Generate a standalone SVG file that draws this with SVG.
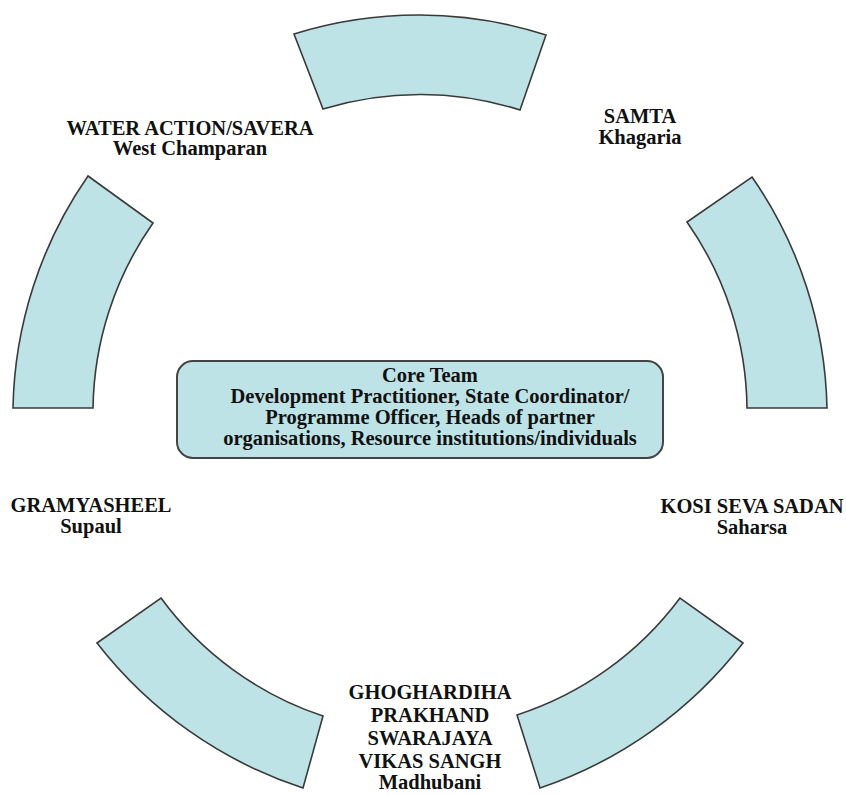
<svg xmlns="http://www.w3.org/2000/svg" width="846" height="795" viewBox="0 0 846 795">
<style>
.seg{fill:#bee3e6;stroke:#3a3a3a;stroke-width:1.6;stroke-linejoin:miter}
.core{fill:#bee3e6;stroke:#444;stroke-width:2}
text{font-family:"Liberation Serif","Times New Roman",serif;font-weight:bold;font-size:20.5px;fill:#111;text-anchor:middle}
</style>
<rect width="846" height="795" fill="#fff"/>
<g id="connectors"></g>
<g id="seg-top"><path class="seg" d="M294,34 A417 417 0 0 1 546,35 L520,110 A330 330 0 0 0 323,109 Z"/></g>
<g id="seg-left"><path class="seg" d="M88,176 A420 420 0 0 0 13,408 L93,408 A330 330 0 0 1 153,223 Z"/></g>
<g id="seg-right"><path class="seg" d="M752,177 A420 420 0 0 1 827,408 L747,408 A330 330 0 0 0 687,222 Z"/></g>
<g id="seg-bottom-left"><path class="seg" d="M97,643 A430 430 0 0 0 303,788 L323,716 A330 330 0 0 1 161,598 Z"/></g>
<g id="seg-bottom-right"><path class="seg" d="M743,643 A430 430 0 0 1 540,788 L517,715 A330 330 0 0 0 680,598 Z"/></g>
<g id="core-team">
<rect class="core" x="177" y="361" width="486" height="97" rx="16" ry="16"/>
<text x="430" y="382">Core Team</text>
<text x="430" y="403">Development Practitioner, State Coordinator/</text>
<text x="430" y="424">Programme Officer, Heads of partner</text>
<text x="430" y="445">organisations, Resource institutions/individuals</text>
</g>
<g id="label-water-action">
<text x="190" y="135">WATER ACTION/SAVERA</text>
<text x="190" y="155">West Champaran</text>
</g>
<g id="label-samta">
<text x="640" y="123">SAMTA</text>
<text x="640" y="144">Khagaria</text>
</g>
<g id="label-gramyasheel">
<text x="91" y="512">GRAMYASHEEL</text>
<text x="91" y="533">Supaul</text>
</g>
<g id="label-kosi">
<text x="752" y="513">KOSI SEVA SADAN</text>
<text x="752" y="534">Saharsa</text>
</g>
<g id="label-ghoghardiha">
<text x="430" y="699">GHOGHARDIHA</text>
<text x="430" y="722">PRAKHAND</text>
<text x="430" y="745">SWARAJAYA</text>
<text x="430" y="768">VIKAS SANGH</text>
<text x="430" y="789">Madhubani</text>
</g>
</svg>
